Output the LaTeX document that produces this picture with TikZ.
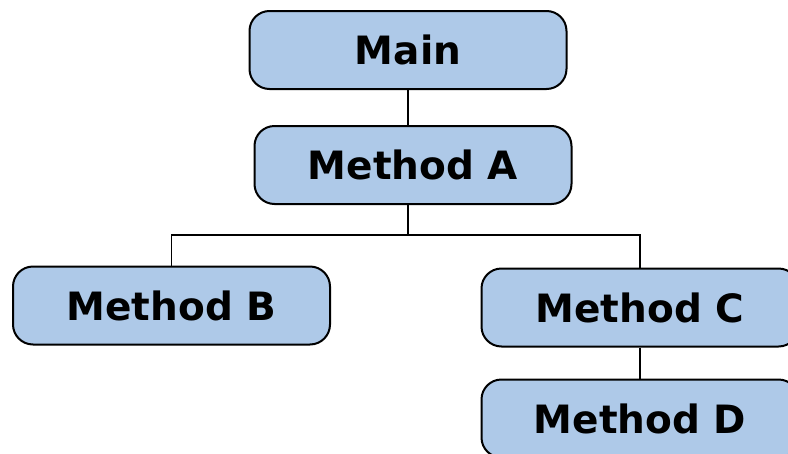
\documentclass[tikz,border=0pt]{standalone}
\usepackage{fontspec}
\setmainfont{DejaVu Sans}
\definecolor{boxfill}{RGB}{174,201,232}
\tikzset{
  methodbox/.style={draw=black, line width=2pt, fill=boxfill, rounded corners=20pt,
    minimum width=317pt, minimum height=78pt, inner sep=0pt,
    font=\fontsize{39}{44}\selectfont\bfseries},
  link/.style={draw=black, line width=1.6pt}
}
\begin{document}
\begin{tikzpicture}[x=1pt,y=-1pt]
\useasboundingbox (0,0) rectangle (788,453);
\clip (0,0) rectangle (788,453);
\node[methodbox] (main) at (408,50) {Main};
\node[methodbox] (a) at (413,165) {Method A};
\node[methodbox] (b) at (171.5,305.5) {Method B};
\node[methodbox] (c) at (640,307.5) {Method C};
\node[methodbox] (d) at (640,418.5) {Method D};
\coordinate (j) at (408,235);
\draw[link] (main.south) -- (main.south |- a.north);
\draw[link] (a.south -| j) -- (j);
\draw[link] (b.north) |- (j) -| (c.north);
\draw[link] (c.south) -- (d.north);
\end{tikzpicture}
\end{document}
